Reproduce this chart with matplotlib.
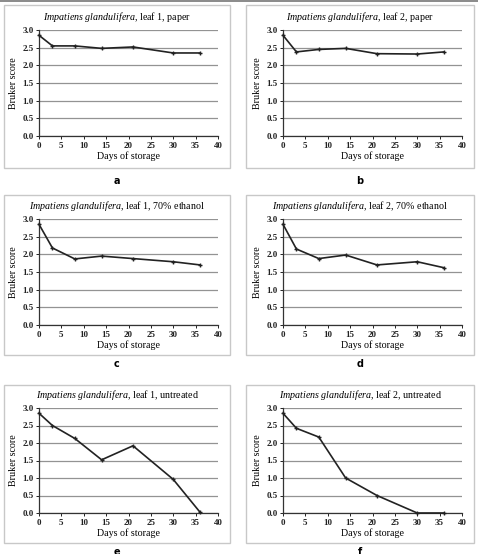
import matplotlib
matplotlib.use("Agg")
import matplotlib.pyplot as plt
import matplotlib.patches as patches
from matplotlib.lines import Line2D

plt.rcParams['font.family'] = ['Liberation Serif', 'DejaVu Serif']
plt.rcParams['mathtext.fontset'] = 'custom'
plt.rcParams['mathtext.it'] = 'Liberation Serif:italic'
plt.rcParams['mathtext.rm'] = 'Liberation Serif'

days = [0, 3, 8, 14, 21, 30, 36]
leaf1_paper = [2.85, 2.55, 2.55, 2.48, 2.52, 2.35, 2.35]
leaf2_paper = [2.85, 2.38, 2.45, 2.48, 2.33, 2.32, 2.38]
leaf1_ethanol = [2.85, 2.18, 1.87, 1.95, 1.88, 1.79, 1.70]
leaf2_ethanol = [2.85, 2.15, 1.88, 1.98, 1.70, 1.79, 1.62]
leaf1_untreated = [2.85, 2.50, 2.13, 1.52, 1.92, 0.96, 0.02]
leaf2_untreated = [2.85, 2.42, 2.17, 1.00, 0.50, 0.00, 0.00]

titles = ["leaf 1, paper", "leaf 2, paper",
          "leaf 1, 70% ethanol", "leaf 2, 70% ethanol",
          "leaf 1, untreated", "leaf 2, untreated"]
series = [leaf1_paper, leaf2_paper, leaf1_ethanol, leaf2_ethanol,
          leaf1_untreated, leaf2_untreated]
letters = ["a", "b", "c", "d", "e", "f"]

W, H = 478, 554
fig = plt.figure(figsize=(W / 100, H / 100), dpi=100)

# layout in pixels
col_ax = [39, 283]
col_box = [(4, 230), (246, 474)]
row_ax = [(30, 136), (219, 325), (408, 513)]
row_box = [(5, 168), (195, 355), (385, 543)]
row_lab = [181, 364, 552]
ax_w = 179

# thin grey line along the top of the image
fig.lines.append(Line2D([0, 1], [1 - 0.8 / H, 1 - 0.8 / H], transform=fig.transFigure,
                        color='#777777', linewidth=1.2))

for i, (vals, t, let) in enumerate(zip(series, titles, letters)):
    r, c = divmod(i, 2)
    top, bot = row_ax[r]
    bx0, bx1 = col_box[c]
    by0, by1 = row_box[r]
    ax = fig.add_axes([col_ax[c] / W, 1 - bot / H, ax_w / W, (bot - top) / H])

    # panel frame
    fig.patches.append(patches.Rectangle((bx0 / W, 1 - by1 / H), (bx1 - bx0) / W, (by1 - by0) / H,
                                         transform=fig.transFigure, fill=False,
                                         edgecolor='#c8c8c8', linewidth=1.0))

    ax.plot(days, vals, color='#222222', linewidth=1.2, marker='+', markersize=3,
            markeredgewidth=1.0, zorder=3, clip_on=False)
    ax.set_xlim(0, 40)
    ax.set_ylim(0, 3.0)
    ax.set_xticks(range(0, 41, 5))
    ax.set_yticks([0.0, 0.5, 1.0, 1.5, 2.0, 2.5, 3.0])
    ax.set_yticklabels(["%.1f" % v for v in ax.get_yticks()])
    ax.yaxis.grid(True, color='#939393', linewidth=0.9)
    ax.set_axisbelow(True)
    for s in ['top', 'right']:
        ax.spines[s].set_visible(False)
    for s in ['left', 'bottom']:
        ax.spines[s].set_color('#333333')
        ax.spines[s].set_linewidth(0.9)
    ax.tick_params(labelsize=6.5, length=2, width=0.7, pad=2, colors='#222222')
    for lab in ax.get_xticklabels() + ax.get_yticklabels():
        lab.set_fontweight('bold')
    ax.set_xlabel("Days of storage", fontsize=7.2, labelpad=1)
    ax.set_ylabel("Bruker score", fontsize=7.2, labelpad=3)

    fig.text((bx0 + bx1) / 2 / W, 1 - (top - 13) / H,
             r"$\it{Impatiens\ glandulifera}$, " + t,
             ha='center', va='center', fontsize=7.2)
    fig.text((bx0 + bx1) / 2 / W, 1 - row_lab[r] / H, let, ha='center', va='center',
             fontsize=7, fontweight='bold', family='DejaVu Sans')

fig.savefig("out.png", dpi=100)
